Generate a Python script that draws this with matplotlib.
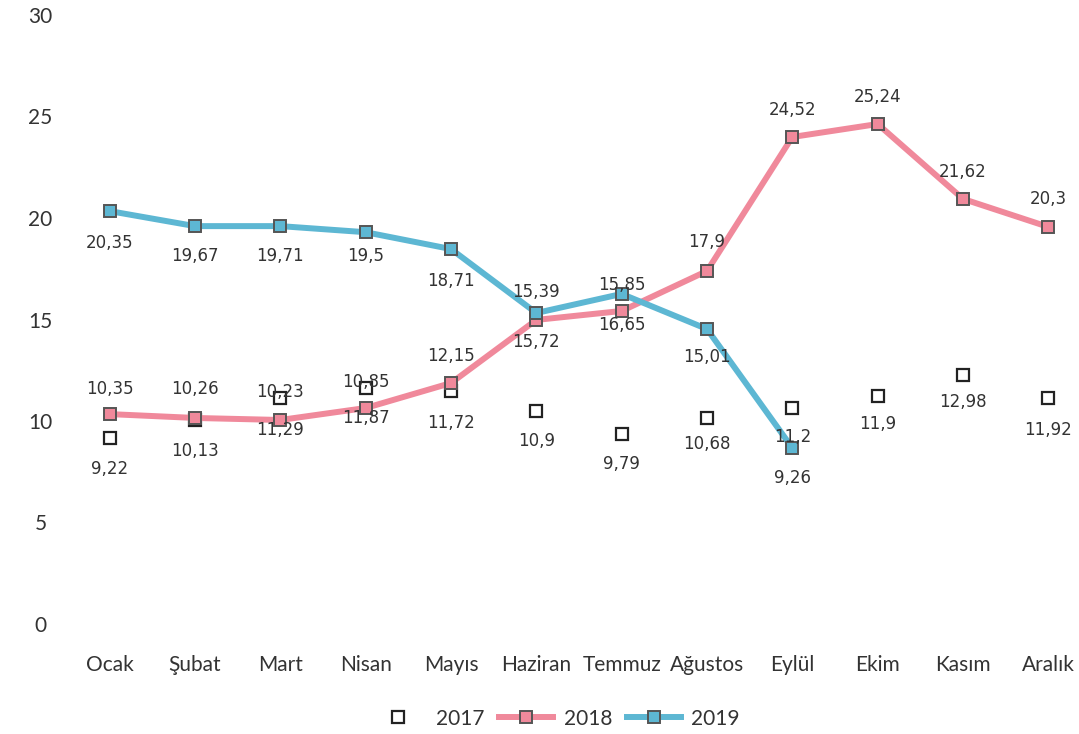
import matplotlib.pyplot as plt
import numpy as np

months = ["Ocak", "Şubat", "Mart", "Nisan", "Mayıs", "Haziran",
          "Temmuz", "Ağustos", "Eylül", "Ekim", "Kasım", "Aralık"]

# marker heights as drawn in the picture
y2017 = [9.16, 10.05, 11.13, 11.63, 11.48, 10.49, 9.36, 10.15, 10.64, 11.23, 12.27, 11.13]
y2018 = [10.34, 10.15, 10.05, 10.64, 11.87, 14.98, 15.42, 17.39, 23.99, 24.63, 20.94, 19.56]
y2019 = [20.34, 19.60, 19.60, 19.30, 18.47, 15.32, 16.26, 14.53, 8.67]

# data label texts as printed
lab2017 = ["9,22", "10,13", "11,29", "11,87", "11,72", "10,9", "9,79", "10,68",
           "11,2", "11,9", "12,98", "11,92"]
lab2018 = ["10,35", "10,26", "10,23", "10,85", "12,15", "15,72", "16,65", "17,9",
           "24,52", "25,24", "21,62", "20,3"]
lab2019 = ["20,35", "19,67", "19,71", "19,5", "18,71", "15,39", "15,85", "15,01", "9,26"]

# vertical label offsets (pixels, + is up)
off2017 = [-31, -31, -32, -30, -32, -30, -30, -26, -29, -28, -27, -32]
off2018 = [25, 29, 28, 26, 27, -22, -14, 29, 27, 27, 27, 28]
off2019 = [-32, -30, -30, -24, -32, 21, 9, -28, -30]

pink = "#F0899B"
blue = "#5DB7D3"
edge = "#555555"
lab_color = "#333333"

fig = plt.figure(figsize=(10.79, 7.34), dpi=100)
ax = fig.add_axes([67 / 1079, 110 / 734, 1024 / 1079, 609 / 734])

x = np.arange(len(months))
ax.plot(x, y2017, linestyle="none", marker="s", markersize=8,
        markerfacecolor="white", markeredgecolor="#222222", markeredgewidth=1.6,
        label="2017", zorder=3)
ax.plot(x, y2018, color=pink, lw=4.3, marker="s", markersize=8.5,
        markerfacecolor=pink, markeredgecolor=edge, markeredgewidth=1.4,
        label="2018", zorder=4)
ax.plot(x[:len(y2019)], y2019, color=blue, lw=4.3, marker="s", markersize=8.5,
        markerfacecolor=blue, markeredgecolor=edge, markeredgewidth=1.4,
        label="2019", zorder=5)

for ys, labs, offs in [(y2017, lab2017, off2017), (y2018, lab2018, off2018),
                       (y2019, lab2019, off2019)]:
    for i, (v, t, o) in enumerate(zip(ys, labs, offs)):
        ax.annotate(t, (x[i], v), xytext=(0, o), textcoords="offset pixels",
                    ha="center", va="center", fontsize=12, color=lab_color,
                    family="DejaVu Sans", zorder=6)

ax.set_xlim(-0.5, 11.5)
ax.set_ylim(0, 30)
ax.set_yticks(range(0, 31, 5))
ax.set_xticks(x)
ax.set_xticklabels(months)
for s in ax.spines.values():
    s.set_visible(False)
ax.tick_params(axis="both", length=0, labelsize=15, colors="#333333")
ax.tick_params(axis="y", pad=19)
ax.tick_params(axis="x", pad=22)
for t in ax.get_xticklabels():
    t.set_family("Lato")
for t in ax.get_yticklabels():
    t.set_family("Lato")
    t.set_horizontalalignment("center")

leg = ax.legend(loc="upper center", bbox_to_anchor=(0.477, -0.108), ncol=3,
                frameon=False, prop={"family": "Lato", "size": 15},
                handlelength=2.6, columnspacing=0.7, handletextpad=0.5)
for t in leg.get_texts():
    t.set_color("#333333")

fig.savefig("out.png", dpi=100, facecolor="white")
